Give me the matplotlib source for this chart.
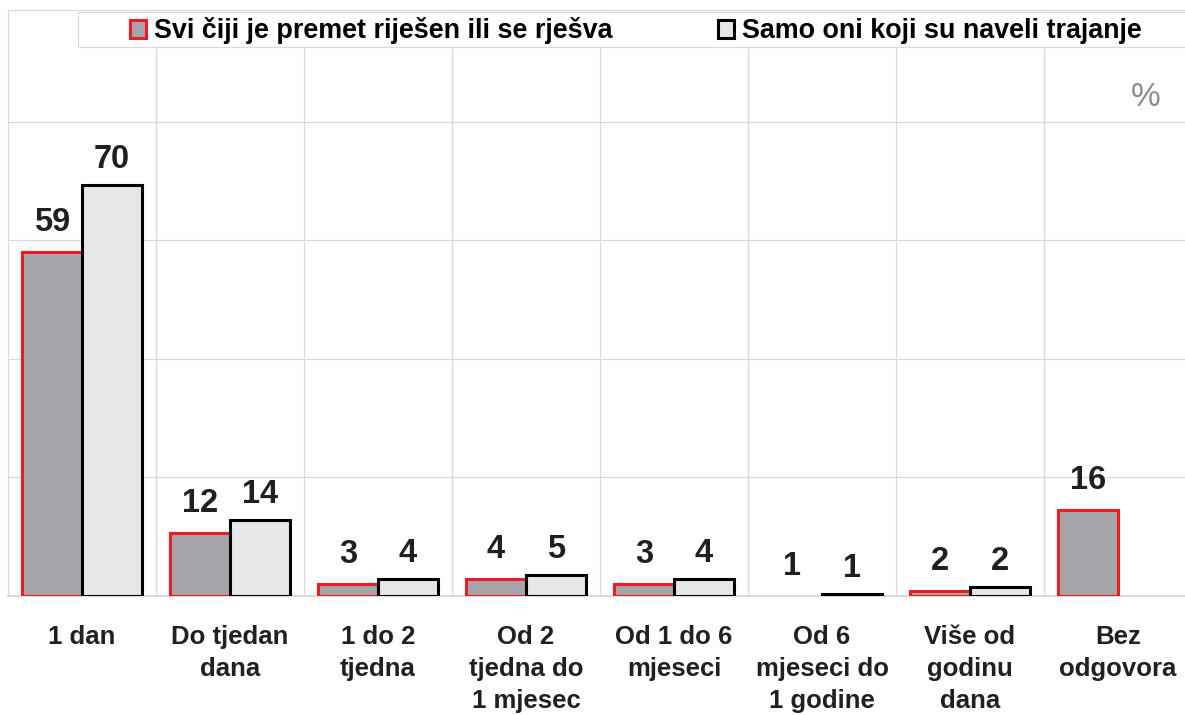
import numpy as np
import matplotlib
matplotlib.use("Agg")
import matplotlib.pyplot as plt
from matplotlib.patches import Patch, Rectangle

plt.rcParams['font.family'] = ['Liberation Sans', 'DejaVu Sans']

categories = ["1 dan", "Do tjedan\ndana", "1 do 2\ntjedna", "Od 2\ntjedna do\n1 mjesec",
              "Od 1 do 6\nmjeseci", "Od 6\nmjeseci do\n1 godine", "Više od\ngodinu\ndana",
              "Bez\nodgovora"]
series_names = ["Svi čiji je premet riješen ili se rješva", "Samo oni koji su naveli trajanje"]
s1_values = [58.1, 10.7, 2.1, 2.8, 2.1, np.nan, 0.9, 14.5]
s2_values = [69.4, 12.9, 2.8, 3.6, 2.8, 0.35, 1.5, np.nan]
s1_labels = ["59", "12", "3", "4", "3", "1", "2", "16"]
s2_labels = ["70", "14", "4", "5", "4", "1", "2", ""]

W, H = 1185, 715
fig = plt.figure(figsize=(W / 100, H / 100), dpi=100)
ax = fig.add_axes([8 / W, (H - 596) / H, 1184 / W, (596 - 10) / H])

x = np.arange(len(categories))
w = 0.405
grey = "#D9D9D9"
txt = "#231F20"

ax.bar(x - w / 2, s1_values, w, color="#A5A4A9", edgecolor="#ED1C24", linewidth=2.2, zorder=3)
ax.bar(x + w / 2, s2_values, w, color="#E6E7E9", edgecolor="#000000", linewidth=2.2, zorder=4)

for xi, v, lab in zip(x, s1_values, s1_labels):
    if lab:
        ax.annotate(lab, (xi - w / 2, np.nan_to_num(v)), xytext=(0, 21), textcoords="offset pixels",
                    ha="center", va="baseline", fontsize=23.5, fontweight="bold", color=txt, zorder=6)
for xi, v, lab in zip(x, s2_values, s2_labels):
    if lab:
        ax.annotate(lab, (xi + w / 2, np.nan_to_num(v)), xytext=(0, 17), textcoords="offset pixels",
                    ha="center", va="baseline", fontsize=23.5, fontweight="bold", color=txt, zorder=6)

ax.set_xlim(-0.5, len(categories) - 0.5)
ax.set_ylim(0, 98.9)
ax.set_yticks([20, 40, 60, 80])
ax.set_yticklabels([])
ax.tick_params(axis="y", length=0)
ax.set_xticks(x)
ax.set_xticklabels(categories, fontsize=18.5, fontweight="bold", color=txt, linespacing=1.42)
ax.tick_params(axis="x", length=0, pad=21)
ax.set_xticks(np.arange(0.5, len(categories) - 0.5, 1), minor=True)
ax.tick_params(axis="x", which="minor", length=0)
ax.grid(True, axis="y", which="major", color=grey, linewidth=0.9, zorder=0)
ax.grid(True, axis="x", which="minor", color=grey, linewidth=0.9, zorder=0)
ax.grid(False, axis="x", which="major")
ax.set_axisbelow(True)
for s in ["left", "top", "right"]:
    ax.spines[s].set_color(grey)
    ax.spines[s].set_linewidth(0.9)
ax.spines["bottom"].set_color(grey)
ax.spines["bottom"].set_linewidth(1.4)

# legend frame
rect = Rectangle((78 / W, 1 - 47 / H), 1.0, 35 / H, transform=fig.transFigure,
                 facecolor="white", edgecolor=grey, linewidth=0.9, zorder=2)
fig.add_artist(rect)
handles = [Patch(facecolor="#A5A4A9", edgecolor="#ED1C24", linewidth=2.2),
           Patch(facecolor="#E6E7E9", edgecolor="#000000", linewidth=2.2)]
leg = fig.legend(handles, series_names, loc="center", bbox_to_anchor=(636 / W, 1 - 31 / H),
                 ncol=2, frameon=False, prop={"size": 19.4, "weight": "bold"},
                 handlelength=0.6, handleheight=0.6, handletextpad=0.3, columnspacing=3.9,
                 borderpad=0, borderaxespad=0)
for t in leg.get_texts():
    t.set_color("#000000")
leg.set_zorder(5)

fig.text(1146 / W, 1 - 97 / H, "%", ha="center", va="center", fontsize=24, color="#8C8C8C")

fig.savefig("out.png", dpi=100)
